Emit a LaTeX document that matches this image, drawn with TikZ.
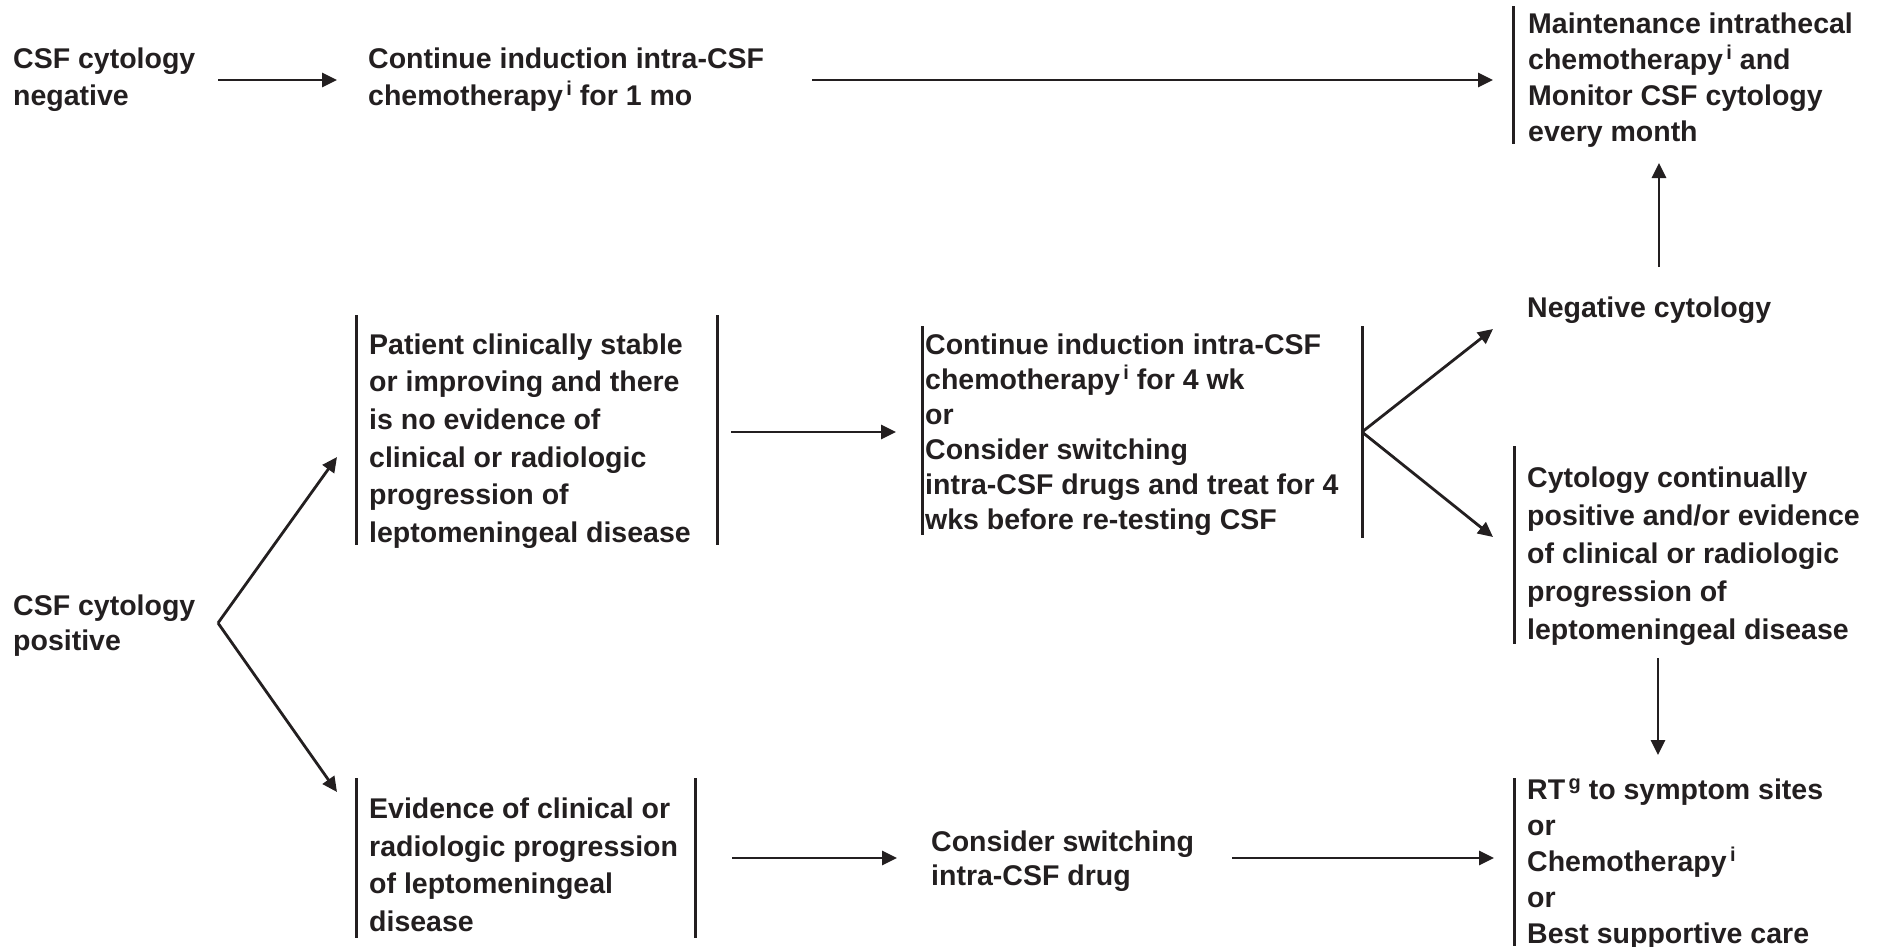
\documentclass[tikz,border=0pt]{standalone}
\usepackage{fontspec}
\setmainfont{Liberation Sans}
\usetikzlibrary{arrows.meta}
\definecolor{ink}{HTML}{231F20}
\newcommand{\supr}[1]{\hspace{0.12em}\raisebox{0.36em}{\fontsize{20}{20}\selectfont #1}}
\begin{document}
\begin{tikzpicture}[x=1pt,y=-1pt,
  txt/.style={anchor=west,inner sep=0pt,align=left,text=ink,font=\fontsize{28.5}{#1}\selectfont\bfseries},
  txt/.default=36,
  bar/.style={draw=ink,line width=3pt},
  arr/.style={draw=ink,line width=2.8pt,-{Triangle[length=15pt,width=14pt]}}]
\useasboundingbox (0,0) rectangle (1886,946);
% text nodes
\node[txt=37] (neg) at (13,80) {CSF cytology\\negative};
\node[txt=37] (cont1) at (368,80) {Continue induction intra-CSF\\chemotherapy\supr{i} for 1 mo};
\node[txt=36] (maint) at (1528,80) {Maintenance intrathecal\\chemotherapy\supr{i} and\\Monitor CSF cytology\\every month};
\node[txt] (negcyt) at (1527,310) {Negative cytology};
\node[txt=37.6] (pat) at (369,441) {Patient clinically stable\\or improving and there\\is no evidence of\\clinical or radiologic\\progression of\\leptomeningeal disease};
\node[txt=35] (cont4) at (925,434.5) {Continue induction intra-CSF\\chemotherapy\supr{i} for 4 wk\\or\\Consider switching\\intra-CSF drugs and treat for 4\\wks before re-testing CSF};
\node[txt=38] (cyto) at (1527,556) {Cytology continually\\positive and/or evidence\\of clinical or radiologic\\progression of\\leptomeningeal disease};
\node[txt=35] (pos) at (13,626) {CSF cytology\\positive};
\node[txt=37.5] (evid) at (369,865) {Evidence of clinical or\\radiologic progression\\of leptomeningeal\\disease};
\node[txt=34] (switch) at (931,861) {Consider switching\\intra-CSF drug};
\node[txt=36] (rt) at (1527,864) {RT\supr{g} to symptom sites\\or\\Chemotherapy\supr{i}\\or\\Best supportive care};
% bars
\draw[bar] (1513,6) -- (1513,144);
\draw[bar] (356,315) -- (356,545);
\draw[bar] (717,315) -- (717,545);
\draw[bar] (922,326) -- (922,535);
\draw[bar] (1362,326) -- (1362,538);
\draw[bar] (1514,446) -- (1514,644);
\draw[bar] (356,778) -- (356,938);
\draw[bar] (695,778) -- (695,938);
\draw[bar] (1514,778) -- (1514,946);
% connector end points
\coordinate (negR) at (218,80);
\coordinate (cont1L) at (337,80);
\coordinate (cont1R) at (812,80);
\coordinate (maintL) at (1493,80);
\coordinate (negcytT) at (1659,267);
\coordinate (maintB) at (1659,163);
\coordinate (posR) at (218,623);
\coordinate (patL) at (337,457);
\coordinate (evidL) at (337,792);
\coordinate (patR) at (731,432);
\coordinate (cont4L) at (896,432);
\coordinate (cont4R) at (1362,432);
\coordinate (negcytL) at (1493,329);
\coordinate (cytoL) at (1493,537);
\coordinate (cytoB) at (1658,658);
\coordinate (rtT) at (1658,755);
\coordinate (evidR) at (732,858);
\coordinate (switchL) at (897,858);
\coordinate (switchR) at (1232,858);
\coordinate (rtL) at (1494,858);
% connectors
\draw[arr] (negR) -- (cont1L);
\draw[arr] (cont1R) -- (maintL);
\draw[arr] (negcytT) -- (maintB);
\draw[arr] (posR) -- (patL);
\draw[arr] (posR) -- (evidL);
\draw[arr] (patR) -- (cont4L);
\draw[arr] (cont4R) -- (negcytL);
\draw[arr] (cont4R) -- (cytoL);
\draw[arr] (cytoB) -- (rtT);
\draw[arr] (evidR) -- (switchL);
\draw[arr] (switchR) -- (rtL);
\end{tikzpicture}
\end{document}
